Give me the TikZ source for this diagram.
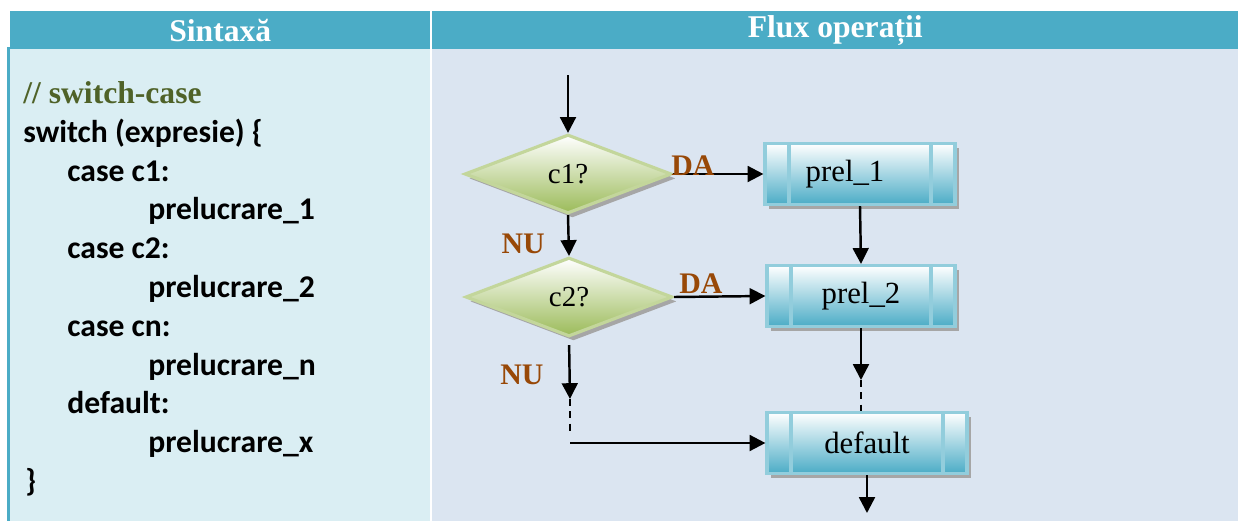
\documentclass[tikz,border=0pt]{standalone}
\usepackage{fontspec}
\setmainfont{Liberation Serif}
\newfontfamily\calibri{Carlito}
\usetikzlibrary{shapes.geometric, arrows.meta, shadows}

\definecolor{antetcol}{HTML}{4BACC6}
\definecolor{fundsint}{HTML}{DAEEF3}
\definecolor{fundflux}{HTML}{DBE5F1}
\definecolor{verdecom}{HTML}{4F6228}
\definecolor{maro}{HTML}{984807}
\definecolor{decmargine}{HTML}{C3D69B}
\definecolor{decjos}{HTML}{9BBB59}
\definecolor{procmargine}{HTML}{92CDDC}
\definecolor{procjos}{HTML}{4BACC6}

\tikzset{
  antet/.style={rectangle, anchor=north west, inner sep=0pt, fill=antetcol, text=white, font=\bfseries\fontsize{18}{22}\selectfont},
  celula/.style={rectangle, anchor=north west, inner sep=0pt, minimum height=9.44cm},
  cod/.style={anchor=base west, inner sep=0pt, font=\calibri\bfseries\fontsize{18}{22}\selectfont},
  coment/.style={anchor=base west, inner sep=0pt, text=verdecom, font=\bfseries\fontsize{18}{22}\selectfont},
  decizie/.style={diamond, inner sep=0pt, minimum width=4.14cm, minimum height=1.58cm, draw=decmargine, line width=1.8pt, top color=white, bottom color=decjos, drop shadow={shadow xshift=2.5pt, shadow yshift=-2.5pt, fill=black!35, opacity=1}, font=\fontsize{16.5}{20}\selectfont},
  proces/.style={rectangle, inner sep=0pt, minimum height=1.22cm, draw=procmargine, line width=1.8pt, top color=white, bottom color=procjos, drop shadow={shadow xshift=2.5pt, shadow yshift=-2.5pt, fill=black!35, opacity=1}, font=\fontsize{17.5}{20}\selectfont,
    path picture={\draw[procmargine, line width=1.8pt]
      ([xshift=0.48cm]path picture bounding box.north west) -- ([xshift=0.48cm]path picture bounding box.south west)
      ([xshift=-0.48cm]path picture bounding box.north east) -- ([xshift=-0.48cm]path picture bounding box.south east);}},
  eticheta/.style={inner sep=0pt, text=maro, font=\bfseries\fontsize{17}{20}\selectfont},
  sageata/.style={line width=1.4pt, ->, >={Triangle[length=9pt, width=9pt]}},
  punctat/.style={line width=1.4pt, dash pattern=on 4pt off 3pt}
}

\begin{document}
\begin{tikzpicture}[x=0.02cm, y=-0.02cm]
        \useasboundingbox (0,0) rectangle (1238,521);

        % Tabel: antet si celule
        \node (hsint) [antet, minimum width=8.4cm, minimum height=0.76cm] at (10,11) {Sintaxă};
        \node (hflux) [antet, minimum width=16.12cm, minimum height=0.76cm] at (432,11) {Flux operații};
        \node (csint) [celula, fill=fundsint, minimum width=8.4cm] at (10,49) {};
        \node (cflux) [celula, fill=fundflux, minimum width=16.12cm] at (432,49) {};
        \fill[antetcol] (7,47) rectangle (10,521);

        % Sintaxa
        \node (l1) [coment] at (23,103) {// switch-case};
        \node (l2) [cod] at (23,142) {switch (expresie) \{};
        \node (l3) [cod] at (67,181) {case c1:};
        \node (l4) [cod] at (148,219) {prelucrare\_1};
        \node (l5) [cod] at (67,258) {case c2:};
        \node (l6) [cod] at (148,297) {prelucrare\_2};
        \node (l7) [cod] at (67,336) {case cn:};
        \node (l8) [cod] at (148,375) {prelucrare\_n};
        \node (l9) [cod] at (67,413) {default:};
        \node (l10) [cod] at (148,452) {prelucrare\_x};
        \node (l11) [cod] at (25,491) {\}};

        % Flux operatii
        \coordinate (intrare) at (568,75);
        \node (c1) [decizie] at (568,174) {c1?};
        \node (c2) [decizie] at (569,297) {c2?};
        \node (p1) [proces, minimum width=3.8cm] at (860,174) {prel\_1\hspace{0.6cm}\null};
        \node (p2) [proces, minimum width=3.76cm] at (861,296) {prel\_2};
        \node (dflt) [proces, minimum width=4cm] at (867,443) {default};
        \coordinate (m1) at (570,399);
        \coordinate (m2) at (570,443);
        \coordinate (m3) at (861,380);
        \coordinate (iesire) at (866,513);

        % Sageti
        \draw [sageata] (intrare) -- (c1.north);
        \draw [sageata] (c1.east) -- node[eticheta, pos=0, anchor=base west, xshift=-0.06cm, yshift=-0.02cm]{DA} (p1.west);
        \draw [sageata] (c1.south) -- node[eticheta, pos=0.93, anchor=base east, xshift=-0.46cm]{NU} (c2.north);
        \draw [sageata] (c2.east) -- node[eticheta, pos=0, anchor=base west, xshift=0.08cm, yshift=0.08cm]{DA} (p2.west);
        \draw [sageata, shorten <=4pt] (c2.south) -- node[eticheta, pos=0.77, anchor=base east, xshift=-0.5cm]{NU} (m1);
        \draw [punctat] (m1) -- ([yshift=0.16cm]m2);
        \draw [sageata] (m2) -- (dflt.west);
        \draw [sageata] (p1.south) -- (p2.north);
        \draw [sageata] (p2.south) -- (m3);
        \draw [punctat] (m3) -- (m3 |- dflt.north);
        \draw [sageata] (dflt.south) -- (dflt.south |- iesire);
\end{tikzpicture}
\end{document}
